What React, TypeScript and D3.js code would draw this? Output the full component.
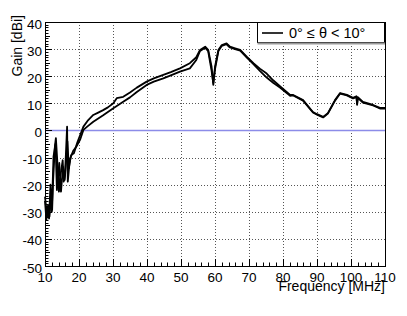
import * as d3 from 'd3';

const W = 407;
const H = 316;
const margin = { left: 45, right: 22, top: 22, bottom: 50 };

// x: frequency [MHz], y: gain [dBi]
const xTicks = [10, 20, 30, 40, 50, 60, 70, 80, 90, 100, 110];
const yTicks = [-50, -40, -30, -20, -10, 0, 10, 20, 30, 40];

// upper trace
const freqA = [
  10.0, 10.6, 10.9, 11.3, 11.8, 12.1, 12.4, 12.9, 13.2, 13.6, 14.1, 14.5, 15.2, 15.5, 15.9,
  16.5, 16.7, 17.2, 17.7, 18.5, 19.5, 20.4, 21.3, 22.5, 24.2, 25.5, 27.1, 28.5, 30.1, 31.1,
  33.0, 35.0, 37.0, 39.9, 42.0, 44.8, 47.0, 49.7, 52.6, 54.5, 55.6, 57.1, 58.0, 59.0, 59.5,
  60.0, 61.0, 62.0, 63.4, 64.4, 65.9, 67.4, 69.3, 71.3, 73.2, 75.2, 77.1, 79.1, 82.1, 83.0,
  85.9, 88.8, 90.0, 91.8, 93.2, 95.3, 96.8, 98.8, 100.6, 101.6, 101.8, 102.0, 103.5, 106.5,
  108.5, 110.0,
];
const gainA = [
  -24.4, -31.8, -27.5, -31.8, -24.4, -29.3, -18.3, -6.0, -2.8, -11.0, -22.6, -17.0, -11.0,
  -18.9, -15.8, 1.4, -18.9, -12.1, -9.1, -8.4, -4.5, -1.5, 1.4, 3.5, 5.7, 6.5, 7.5, 8.5, 10.0,
  11.9, 12.4, 14.0, 15.8, 18.0, 19.2, 20.5, 21.5, 22.9, 24.8, 27.0, 29.7, 30.9, 29.7, 23.5,
  16.8, 23.5, 29.7, 31.5, 32.1, 30.9, 30.3, 29.7, 27.2, 24.8, 22.8, 21.0, 18.5, 16.3, 13.1,
  13.1, 11.2, 6.8, 6.0, 5.0, 6.4, 11.2, 13.8, 13.1, 12.0, 12.6, 9.4, 12.3, 10.5, 9.4, 8.3, 8.3,
];

// lower trace
const freqB = [
  10.0, 10.4, 10.8, 11.2, 11.6, 12.0, 12.5, 13.1, 13.5, 14.2, 14.7, 15.3, 15.8, 16.3, 16.6,
  17.0, 17.5, 18.3, 19.2, 20.3, 21.3, 22.5, 24.2, 27.0, 30.1, 33.0, 35.0, 37.0, 39.9, 42.0,
  44.8, 47.0, 49.7, 52.6, 54.5, 55.6, 57.1, 58.0, 59.0, 59.5, 60.0, 61.0, 62.0, 63.4, 64.4,
  65.9, 67.4, 69.3, 71.3, 73.2, 75.2, 77.1, 79.1, 82.1, 83.0, 85.9, 88.8, 90.0, 91.8, 93.2,
  95.3, 96.8, 98.8, 100.6, 101.6, 101.8, 102.0, 103.5, 106.5, 108.5, 110.0,
];
const gainB = [
  -26.0, -33.0, -29.0, -32.5, -20.0, -30.0, -9.7, -5.0, -22.0, -12.0, -22.6, -13.4, -18.3,
  -9.7, -4.0, -14.0, -10.0, -7.5, -6.0, -3.5, 0.2, 1.5, 3.2, 5.5, 8.2, 10.6, 12.2, 14.2, 16.8,
  18.0, 19.2, 20.3, 21.7, 22.9, 26.0, 29.3, 30.5, 29.2, 22.0, 17.5, 22.5, 29.3, 31.2, 31.8,
  30.6, 30.0, 29.4, 27.0, 24.5, 22.0, 19.5, 17.6, 15.8, 12.8, 12.9, 11.0, 6.6, 5.8, 4.8, 6.2,
  11.0, 13.6, 12.9, 11.8, 12.4, 9.8, 12.0, 10.3, 9.2, 8.1, 8.1,
];

const legendLabel = '0° ≤ θ < 10°';
const font = '"Liberation Sans", Arial, Helvetica, sans-serif';

export default function App() {
  const x = d3.scaleLinear().domain([10, 110]).range([margin.left, W - margin.right]);
  const y = d3.scaleLinear().domain([-50, 40]).range([H - margin.bottom, margin.top]);
  const x0 = margin.left;
  const x1 = W - margin.right;
  const y0 = H - margin.bottom;
  const y1 = margin.top;

  // build a path from a freq / gain pair of arrays
  const path = (fs: number[], gs: number[]) =>
    d3
      .line<[number, number]>()
      .x((d) => x(d[0]))
      .y((d) => y(d[1]))(fs.map((f, i) => [f, gs[i]] as [number, number])) || '';

  const xMinor = d3.range(10, 110.01, 2).filter((v) => v % 10 !== 0);
  const yMinor = d3.range(-50, 40.01, 1).filter((v) => v % 10 !== 0);
  const px = (v: number) => Math.round(v) + 0.5;

  return (
    <svg
      width={W}
      height={H}
      style={{ position: 'absolute', left: 0, top: 0, background: '#fff' }}
      fontFamily={font}
    >
      <rect x={0} y={0} width={W} height={H} fill="#fff" />
      {/* grid */}
      <g stroke="#555" strokeWidth={1} strokeDasharray="1 2">
        {xTicks.slice(1, -1).map((t) => (
          <line key={'gx' + t} x1={px(x(t))} x2={px(x(t))} y1={y1} y2={y0} />
        ))}
        {yTicks.slice(1, -1).map((t) => (
          <line key={'gy' + t} x1={x0} x2={x1} y1={px(y(t))} y2={px(y(t))} />
        ))}
      </g>
      {/* zero line */}
      <line x1={x0} x2={x1} y1={y(0)} y2={y(0)} stroke="#8c8ce8" strokeWidth={1.5} />
      {/* traces */}
      <g fill="none" stroke="#000" strokeWidth={1.8} strokeLinejoin="round">
        <path d={path(freqB, gainB)} />
        <path d={path(freqA, gainA)} />
      </g>
      {/* ticks */}
      <g stroke="#000" strokeWidth={1}>
        {xTicks.map((t) => (
          <line key={'tx' + t} x1={px(x(t))} x2={px(x(t))} y1={y0} y2={y0 - 7} />
        ))}
        {xMinor.map((t) => (
          <line key={'mx' + t} x1={px(x(t))} x2={px(x(t))} y1={y0} y2={y0 - 3.5} />
        ))}
        {yTicks.map((t) => (
          <line key={'ty' + t} x1={x0} x2={x0 + 7} y1={px(y(t))} y2={px(y(t))} />
        ))}
        {yMinor.map((t) => (
          <line key={'my' + t} x1={x0} x2={x0 + (t % 5 === 0 ? 5 : 3.5)} y1={px(y(t))} y2={px(y(t))} />
        ))}
      </g>
      {/* frame */}
      <rect x={x0 + 0.5} y={y1 + 0.5} width={x1 - x0} height={y0 - y1} fill="none" stroke="#000" strokeWidth={1} />
      {/* tick labels */}
      <g fontSize={13.5} fill="#000">
        {xTicks.map((t) => (
          <text key={'lx' + t} x={x(t)} y={281.5} textAnchor="middle">
            {t}
          </text>
        ))}
        {yTicks.map((t) => (
          <text key={'ly' + t} x={42} y={y(t) + 6.5} textAnchor="end">
            {t}
          </text>
        ))}
      </g>
      {/* axis titles */}
      <text x={385} y={291} fontSize={14} textAnchor="end">
        Frequency [MHz]
      </text>
      <text transform="translate(22,15) rotate(-90)" fontSize={14} textAnchor="end">
        Gain [dBi]
      </text>
      {/* legend */}
      <rect x={257.5} y={22.5} width={127} height={20} fill="#fff" stroke="#000" strokeWidth={1} />
      <line x1={257.5} x2={385} y1={43.5} y2={43.5} stroke="#999" strokeWidth={2} />
      <line x1={262} x2={283} y1={33} y2={33} stroke="#000" strokeWidth={1.6} />
      <text x={289} y={38} fontSize={14.5}>
        {legendLabel}
      </text>
    </svg>
  );
}
